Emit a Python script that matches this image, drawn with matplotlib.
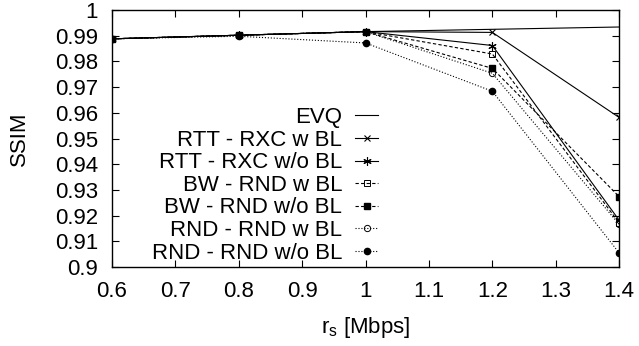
import matplotlib.pyplot as plt
from matplotlib.ticker import FormatStrFormatter, MultipleLocator

plt.rcParams['font.family'] = ['Liberation Sans', 'DejaVu Sans']

rate = [0.6, 0.8, 1.0, 1.2, 1.4]

evq = [0.9888, 0.9902, 0.9916, 0.9925, 0.9934]
rtt_w = [0.9888, 0.9902, 0.9916, 0.9913, 0.9582]
rtt_wo = [0.9888, 0.9902, 0.9916, 0.9862, 0.9182]
bw_w = [0.9888, 0.9902, 0.9916, 0.9829, 0.9172]
bw_wo = [0.9888, 0.9902, 0.9916, 0.9773, 0.9274]
rnd_w = [0.9888, 0.9902, 0.9916, 0.9754, 0.9166]
rnd_wo = [0.9888, 0.9898, 0.9872, 0.9684, 0.9055]

labels = ['EVQ', 'RTT - RXC w BL', 'RTT - RXC w/o BL', 'BW - RND w BL',
          'BW - RND w/o BL', 'RND - RND w BL', 'RND - RND w/o BL']

fs = 16

fig = plt.figure(figsize=(6.39, 3.46), dpi=100)
ax = fig.add_axes([0.175, 0.228, 0.794, 0.743])

lw = 0.8
ax.plot(rate, evq, '-', color='black', lw=lw, label=labels[0])
ax.plot(rate, rtt_w, '-', color='black', lw=lw, marker='x', ms=5, mew=0.8, label=labels[1])
ax.plot(rate, rtt_wo, '-', color='black', lw=lw, marker=(6, 2, 0), ms=6, mew=0.8, label=labels[2])
ax.plot(rate, bw_w, '--', color='black', lw=lw, dashes=(3, 2), marker='s', ms=4.5, mfc='none', mew=0.7, label=labels[3])
ax.plot(rate, bw_wo, '--', color='black', lw=lw, dashes=(3, 2), marker='s', ms=5, label=labels[4])
ax.plot(rate, rnd_w, ':', color='black', lw=lw, marker='o', ms=4.5, mfc='none', mew=0.7, label=labels[5])
ax.plot(rate, rnd_wo, ':', color='black', lw=lw, marker='o', ms=4.5, label=labels[6])

ax.set_xlim(0.6, 1.4)
ax.set_ylim(0.9, 1.0)
ax.xaxis.set_major_locator(MultipleLocator(0.1))
ax.yaxis.set_major_locator(MultipleLocator(0.01))
ax.xaxis.set_major_formatter(FormatStrFormatter('%g'))
ax.yaxis.set_major_formatter(FormatStrFormatter('%g'))
ax.tick_params(direction='in', top=True, right=True, labelsize=fs, length=5, width=0.8)
ax.tick_params(axis='y', pad=10)
ax.tick_params(axis='x', pad=10)
for s in ax.spines.values():
    s.set_linewidth(1.0)

ax.set_xlabel('r$_\\mathregular{s}$ [Mbps]', fontsize=fs, labelpad=9)
ax.set_ylabel('SSIM', fontsize=fs, labelpad=18)

ax.legend(loc='center right', bbox_to_anchor=(0.524, 0.318), frameon=False, markerfirst=False,
          fontsize=fs, handlelength=1.0, labelspacing=0.07, handletextpad=0.6,
          borderaxespad=0, borderpad=0)

fig.savefig('out.png', dpi=100)
